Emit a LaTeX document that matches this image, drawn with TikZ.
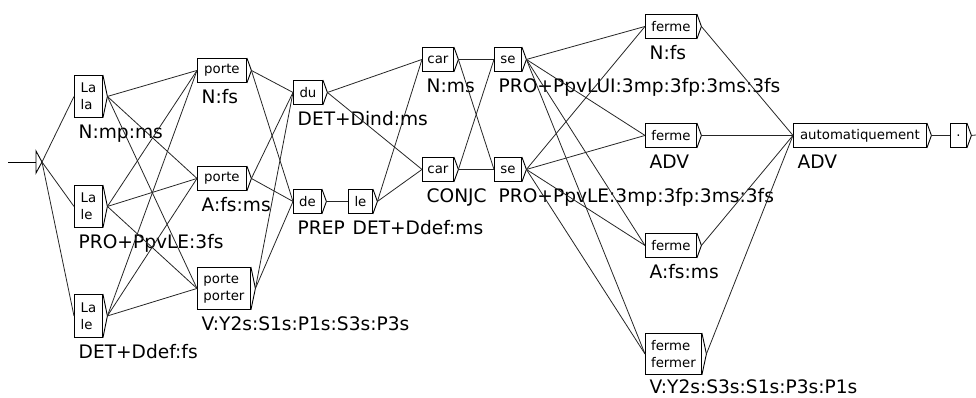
\documentclass[tikz,border=0pt]{standalone}
\usepackage{fontspec}
\setmainfont{DejaVu Sans}
\begin{document}
\begin{tikzpicture}[x=1pt,y=-1pt,
  ubox/.style={draw=black,line width=0.9pt,inner sep=0pt,align=left,
    font=\fontsize{13.3}{17}\selectfont},
  utip/.style={draw=black,line width=0.9pt},
  ulab/.style={inner sep=0pt,font=\fontsize{18.6}{20}\selectfont},
  edge/.style={draw=black!85,line width=0.8pt}]
\useasboundingbox (0,0) rectangle (976,398);
\newcommand\ubox[6]{%
  \node[ubox,minimum width=#4pt,minimum height=#5pt,anchor=north west] (#1) at (#2,#3) {#6};
  \coordinate (#1o) at ([xshift=4.5pt]#1.east);
  \draw[utip] (#1.north east) -- (#1o) -- (#1.south east);}
\newcommand\ulab[3][20.5]{%
  \node[ulab,anchor=base west] (#2l) at ([xshift=4.5pt,yshift=-#1pt]#2.south west) {#3};}
% initial state
\coordinate (start) at (8,162);
\coordinate (initv) at (36,162);
\coordinate (initt) at (36,151);
\coordinate (initb) at (36,173);
\coordinate (init) at (42,162);
\draw[utip] (start) -- (initv);
\draw[utip] (initt) -- (init) -- (initb) -- cycle;
% boxes
\ubox{la1}{74}{75}{28}{42}{La\\la}
\ubox{la2}{74}{185}{28}{42}{La\\le}
\ubox{la3}{74}{294}{28}{43}{La\\le}
\ubox{pN}{197}{58}{49}{24}{porte}
\ubox{pA}{197}{166}{49}{24}{porte}
\ubox{pV}{197}{267}{53}{42}{porte\\porter}
\ubox{du}{293}{80}{29}{24}{du}
\ubox{de}{293}{189}{28}{24}{de}
\ubox{le}{348}{189}{24}{24}{le}
\ubox{carN}{422}{47}{31}{24}{car}
\ubox{carC}{422}{157}{31}{24}{car}
\ubox{seT}{494}{47}{27}{24}{se}
\ubox{seB}{494}{157}{27}{24}{se}
\ubox{fN}{645}{14}{51}{24}{ferme}
\ubox{fADV}{645}{123}{51}{24}{ferme}
\ubox{fA}{645}{233}{51}{24}{ferme}
\ubox{fV}{645}{333}{56}{41}{ferme\\fermer}
\ubox{auto}{793}{123}{133}{24}{automatiquement}
\ubox{dot}{950}{123}{16}{24}{.}
\coordinate (endc) at (976,135);
% labels
\ulab{la1}{N:mp:ms}
\ulab{la2}{PRO+PpvLE:3fs}
\ulab{la3}{DET+Ddef:fs}
\ulab{pN}{N:fs}
\ulab{pA}{A:fs:ms}
\ulab{pV}{V:Y2s:S1s:P1s:S3s:P3s}
\ulab{du}{DET+Dind:ms}
\ulab{de}{PREP}
\ulab{le}{DET+Ddef:ms}
\ulab{carN}{N:ms}
\ulab{carC}{CONJC}
\ulab{seT}{PRO+PpvLUI:3mp:3fp:3ms:3fs}
\ulab{seB}{PRO+PpvLE:3mp:3fp:3ms:3fs}
\ulab{fN}{N:fs}
\ulab{fADV}{ADV}
\ulab{fA}{A:fs:ms}
\ulab[19]{fV}{V:Y2s:S3s:S1s:P3s:P1s}
\ulab{auto}{ADV}
% edges
\foreach \b in {la1,la2,la3} \draw[edge] (init) -- (\b.west);
\foreach \a in {la1,la2,la3} \foreach \b in {pN,pA,pV} \draw[edge] (\a o) -- (\b.west);
\foreach \a in {pN,pA,pV} \foreach \b in {du,de} \draw[edge] (\a o) -- (\b.west);
\foreach \b in {carN,carC} \draw[edge] (duo) -- (\b.west);
\draw[edge] (deo) -- (le.west);
\foreach \b in {carN,carC} \draw[edge] (leo) -- (\b.west);
\foreach \a in {carN,carC} \foreach \b in {seT,seB} \draw[edge] (\a o) -- (\b.west);
\foreach \a in {seT,seB} \foreach \b in {fN,fADV,fA,fV} \draw[edge] (\a o) -- (\b.west);
\foreach \a in {fN,fADV,fA,fV} \draw[edge] (\a o) -- (auto.west);
\draw[edge] (autoo) -- (dot.west);
\draw[edge] (doto) -- (endc);
\end{tikzpicture}
\end{document}
